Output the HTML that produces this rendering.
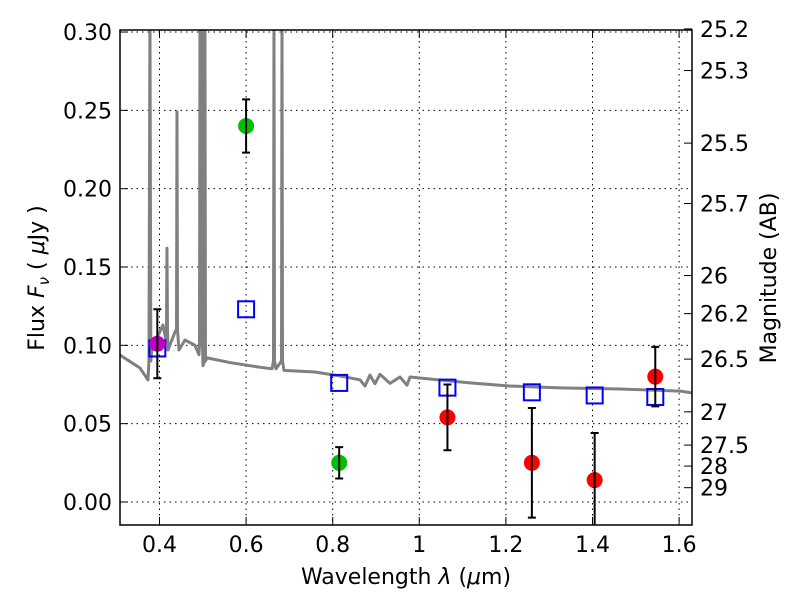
<!DOCTYPE html>
<html><head><meta charset="utf-8"><style>
body{margin:0;background:#fff;}
svg text{font-family:"DejaVu Sans","Liberation Sans",sans-serif;fill:#000;}
</style></head><body>
<svg id="chart" width="800" height="600" xmlns="http://www.w3.org/2000/svg">
<defs><clipPath id="clip"><rect x="120" y="30" width="572" height="495"/></clipPath></defs>
<rect x="0" y="0" width="800" height="600" fill="#fff"/>
<g id="grid"></g>
<g id="plot" clip-path="url(#clip)"></g>
<g id="axes"></g>
<text x="406" y="584" font-size="22" text-anchor="middle">Wavelength  <tspan font-style="italic">λ</tspan> (<tspan font-style="italic">μ</tspan>m)</text>
<text transform="translate(44,278) rotate(-90)" font-size="22" text-anchor="middle">Flux  <tspan font-style="italic">F</tspan><tspan font-style="italic" font-size="15" dy="5">ν</tspan><tspan dy="-5">  ( </tspan><tspan font-style="italic">μ</tspan>Jy )</text>
<text transform="translate(776,278) rotate(-90)" font-size="22" text-anchor="middle">Magnitude (AB)</text>
</svg>
<script>
const xTicks=[0.4,0.6,0.8,1.0,1.2,1.4,1.6];
const xTickLabels=["0.4","0.6","0.8","1","1.2","1.4","1.6"];
const yTicks=[0,0.05,0.10,0.15,0.20,0.25,0.30];
const yTickLabels=["0.00","0.05","0.10","0.15","0.20","0.25","0.30"];
const magTicks=[25.2,25.3,25.5,25.7,26,26.2,26.5,27,27.5,28,29];
const magTickLabels=["25.2","25.3","25.5","25.7","26","26.2","26.5","27","27.5","28","29"];
const specWave=[0.3088,0.355,0.3734,0.3757,0.378,0.380,0.3827,0.3942,0.408,0.415,0.4162,0.4173,0.4185,0.4196,0.4358,0.4393,0.4404,0.4416,0.445,0.4589,0.482,0.4912,0.4924,0.4935,0.4947,0.4970,0.4982,0.4993,0.5005,0.5039,0.505,0.5062,0.5097,0.5628,0.6321,0.6598,0.6633,0.6644,0.6656,0.669,0.6818,0.6829,0.6841,0.6875,0.7591,0.8169,0.863,0.8746,0.8861,0.8977,0.9092,0.9323,0.9554,0.9716,0.9785,1.0478,1.117,1.2095,1.325,1.4635,1.6021,1.6298];
const specFlux=[0.0938,0.0855,0.0779,0.09,0.31,0.09,0.100,0.1047,0.113,0.1034,0.11,0.162,0.11,0.097,0.1085,0.11,0.249,0.11,0.097,0.1034,0.100,0.094,0.1,0.31,0.1,0.1,0.31,0.1,0.087,0.09,0.31,0.09,0.092,0.089,0.086,0.085,0.09,0.31,0.09,0.085,0.09,0.31,0.09,0.084,0.083,0.0804,0.078,0.074,0.081,0.0755,0.0815,0.0757,0.0798,0.0746,0.0798,0.0779,0.076,0.074,0.0728,0.0721,0.0708,0.0696];
const greenWave=[0.60,0.815];
const greenFlux=[0.240,0.025];
const greenErr=[0.017,0.010];
const redWave=[1.065,1.26,1.405,1.545];
const redFlux=[0.054,0.025,0.014,0.080];
const redErr=[0.021,0.035,0.030,0.019];
const magentaWave=[0.395];
const magentaFlux=[0.101];
const magentaErr=[0.022];
const modelWave=[0.395,0.60,0.815,1.065,1.26,1.405,1.545];
const modelFlux=[0.098,0.123,0.076,0.073,0.070,0.068,0.067];

const L=120,R=692,T=30,B=525;
const xMin=0.3088,xMax=1.6298,yMin=-0.0147,yMax=0.3013;
const X=v=>L+(v-xMin)/(xMax-xMin)*(R-L);
const Y=v=>B-(v-yMin)/(yMax-yMin)*(B-T);
const NS="http://www.w3.org/2000/svg";
function mk(tag,attrs,parent){const e=document.createElementNS(NS,tag);for(const k in attrs)e.setAttribute(k,attrs[k]);parent.appendChild(e);return e;}
const grid=document.getElementById('grid'),plot=document.getElementById('plot'),axes=document.getElementById('axes');

xTicks.forEach((t,i)=>{
 const g=mk('line',{x1:X(t),x2:X(t),y1:T,y2:B,stroke:'#000','stroke-width':1,'stroke-dasharray':'1.5,4'},grid);
 
 
 mk('line',{x1:X(t),x2:X(t),y1:B,y2:B-8,stroke:'#000','stroke-width':1},axes);
 mk('line',{x1:X(t),x2:X(t),y1:T,y2:T+8,stroke:'#000','stroke-width':1},axes);
 const tx=mk('text',{x:X(t),y:B+27,'font-size':22,'text-anchor':'middle'},axes);
 tx.textContent=xTickLabels[i];
 
 
});
yTicks.forEach((t,i)=>{
 const g=mk('line',{x1:L,x2:R,y1:Y(t),y2:Y(t),stroke:'#000','stroke-width':1,'stroke-dasharray':'1.5,4'},grid);
 
 
 mk('line',{x1:L,x2:L+8,y1:Y(t),y2:Y(t),stroke:'#000','stroke-width':1},axes);
 const tx=mk('text',{x:L-8,y:Y(t)+8,'font-size':22,'text-anchor':'end'},axes);
 tx.textContent=yTickLabels[i];
 
 
});
magTicks.forEach((m,i)=>{
 const f=Math.pow(10,(23.9-m)/2.5);
 const y=Y(f);
 mk('line',{x1:R,x2:R-8,y1:y,y2:y,stroke:'#000','stroke-width':1},axes);
 const tx=mk('text',{x:R+8,y:y+8,'font-size':22,'text-anchor':'start'},axes);
 tx.textContent=magTickLabels[i];
 
 
});
const fr=mk('rect',{x:L,y:T,width:R-L,height:B-T,fill:'none',stroke:'#000','stroke-width':1.5},axes);



const sp=mk('polyline',{points:specWave.map((w,i)=>X(w)+','+Y(specFlux[i])).join(' '),fill:'none',stroke:'#808080','stroke-width':3,'stroke-linejoin':'round'},plot);



modelWave.forEach((w,i)=>{
 const r=mk('rect',{x:X(w)-8,y:Y(modelFlux[i])-8,width:16,height:16,fill:'none',stroke:'#0000ff','stroke-width':2},plot);
 
 
});
function pts(ws,fs,es,color,name){
 ws.forEach((w,i)=>{
  const x=X(w),y1=Y(fs[i]-es[i]),y2=Y(fs[i]+es[i]);
  const c=mk('circle',{cx:x,cy:Y(fs[i]),r:8,fill:color},plot);
  
  
  const e=mk('path',{d:`M${x},${y1}V${y2}M${x-4},${y1}H${x+4}M${x-4},${y2}H${x+4}`,stroke:'#000','stroke-width':2,fill:'none'},plot);
  
  
 });
}
pts(greenWave,greenFlux,greenErr,'#00bf00','green-photometry-point');
pts(redWave,redFlux,redErr,'#ff0000','red-photometry-point');
pts(magentaWave,magentaFlux,magentaErr,'#bf00bf','magenta-photometry-point');
</script>
</body></html>
